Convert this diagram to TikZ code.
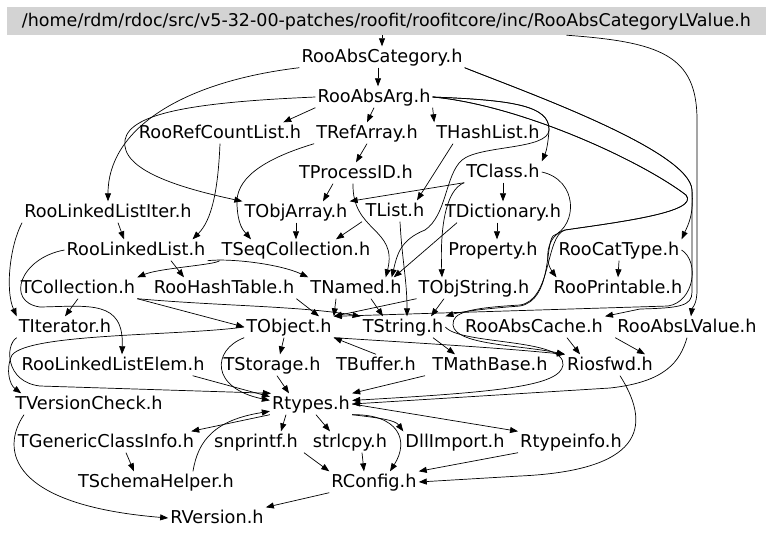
\documentclass[tikz,border=0pt]{standalone}
\usepackage{fontspec}
\setmainfont{DejaVu Sans}
\usetikzlibrary{arrows.meta}
\definecolor{titlegray}{RGB}{211,211,211}
\begin{document}
\begin{tikzpicture}[x=1pt,y=-1pt,
  n/.style={inner sep=2pt, text height=14pt, text depth=3pt, font=\fontsize{17.7}{20}\selectfont},
  e/.style={draw=black, line width=0.7pt, -{Triangle[length=8pt,width=6pt]}}]
\useasboundingbox (0,0) rectangle (768,539);
% nodes
\node[n, fill=titlegray, minimum width=759pt, minimum height=28pt, inner sep=0pt, font=\fontsize{17.5}{20}\selectfont] (T) at (386.5,21) {/home/rdm/rdoc/src/v5-32-00-patches/roofit/roofitcore/inc/RooAbsCategoryLValue.h};
\node[n] (RAC) at (382,57) {RooAbsCategory.h};
\node[n] (RAA) at (374,97) {RooAbsArg.h};
\node[n] (RRCL) at (220,133) {RooRefCountList.h};
\node[n] (TRA) at (367,133) {TRefArray.h};
\node[n] (THL) at (488,133) {THashList.h};
\node[n] (TPID) at (356,173) {TProcessID.h};
\node[n] (TCl) at (503,172) {TClass.h};
\node[n] (RLLI) at (108,212) {RooLinkedListIter.h};
\node[n] (TOA) at (296,212) {TObjArray.h};
\node[n] (TL) at (395,211) {TList.h};
\node[n] (TD) at (503,212) {TDictionary.h};
\node[n] (RLL) at (136,250) {RooLinkedList.h};
\node[n] (TSC) at (296,250) {TSeqCollection.h};
\node[n] (Prop) at (493,250) {Property.h};
\node[n] (RCT) at (619,250) {RooCatType.h};
\node[n] (TCol) at (78,288) {TCollection.h};
\node[n] (RHT) at (224,288) {RooHashTable.h};
\node[n] (TN) at (356,288) {TNamed.h};
\node[n] (TOS) at (474,288) {TObjString.h};
\node[n] (RP) at (618,288) {RooPrintable.h};
\node[n] (TI) at (65,327) {TIterator.h};
\node[n] (TO) at (289,327) {TObject.h};
\node[n] (TS) at (403,327) {TString.h};
\node[n] (RACh) at (534,327) {RooAbsCache.h};
\node[n] (RALV) at (687,327) {RooAbsLValue.h};
\node[n] (RLLE) at (113,365) {RooLinkedListElem.h};
\node[n] (TSt) at (272,365) {TStorage.h};
\node[n] (TB) at (376,365) {TBuffer.h};
\node[n] (TMB) at (490,365) {TMathBase.h};
\node[n] (Rf) at (610,365) {Riosfwd.h};
\node[n] (TVC) at (89,404) {TVersionCheck.h};
\node[n] (Rt) at (311,404) {Rtypes.h};
\node[n] (TGCI) at (106,442) {TGenericClassInfo.h};
\node[n] (snp) at (256,442) {snprintf.h};
\node[n] (strl) at (350,442) {strlcpy.h};
\node[n] (DI) at (455,442) {DllImport.h};
\node[n] (RTI) at (571,442) {Rtypeinfo.h};
\node[n] (TSH) at (156,482) {TSchemaHelper.h};
\node[n] (RC) at (374,482) {RConfig.h};
\node[n] (RV) at (217,518) {RVersion.h};
% edges
\draw[e] (T.south -| RAC.north) -- (RAC.north);
\draw[e] ([xshift=180pt]T.south) .. controls (660,42) and (697,55) .. (697,120) -- (697,290) .. controls (697,305) and (692,308) .. ([xshift=4pt]RALV.north);
\draw[e] ([xshift=-4pt]RAC.south) -- ([xshift=4pt]RAA.north);
\draw[e] (RAC.south west) .. controls (180,82) and (108,130) .. (RLLI.north);
\draw[e] (RAC.south east) .. controls (520,90) and (690,150) .. (692,190) .. controls (694,215) and (688,225) .. (RCT.north east);
\draw[e] (RAC.south east) .. controls (520,90) and (690,150) .. (692,190) -- (692,292) .. controls (692,306) and (680,308) .. (640,309) -- (RACh.north east);
\draw[e] (RAA.south west) -- ([xshift=-20pt]RRCL.north east);
\draw[e] (RAA.south) -- (TRA.north);
\draw[e] (RAA.south east) -- (THL.north west);
\draw[e] (RAA.west) .. controls (200,102) and (130,112) .. (125,140) .. controls (120,170) and (180,188) .. (TOA.north west);
\draw[e] (RAA.east) .. controls (510,100) and (550,105) .. (549,130) .. controls (548,145) and (546,152) .. (TCl.north east);
\draw[e] (RAA.east) .. controls (510,100) and (550,105) .. (549,130) .. controls (548,150) and (480,145) .. (462,160) .. controls (445,175) and (447,215) .. (425,230) .. controls (400,240) and (397,255) .. ([xshift=-12pt]TN.north east);
\draw[e] (TCl.south west) .. controls (445,190) and (440,230) .. ([xshift=-32pt]TOS.north);
\draw[e] (RAA.east) .. controls (520,105) and (640,160) .. (686,195) .. controls (700,212) and (620,222) .. (565,230) .. controls (545,236) and (545,262) .. ([xshift=5pt]RP.north west);
\draw[e] (RAA.east) .. controls (520,105) and (640,160) .. (686,195) .. controls (700,212) and (620,222) .. (565,230) .. controls (545,236) and (552,300) .. (520,305) .. controls (470,308) and (452,312) .. (453,325) .. controls (455,345) and (520,345) .. (Rf.north west);
\draw[e] (RRCL.south) .. controls (218,190) and (212,220) .. ([xshift=-15pt]RLL.north east);
\draw[e] (TRA.south west) .. controls (260,160) and (235,180) .. (237,205) .. controls (238,225) and (243,230) .. ([xshift=-45pt]TSC.north);
\draw[e] (TRA.south) -- (TPID.north);
\draw[e] ([xshift=-23pt]TPID.south) -- ([xshift=27pt]TOA.north);
\draw[e] (TCl.south west) -- (TOA.north east);
\draw[e] ([xshift=-35pt]THL.south) -- ([xshift=22pt]TL.north);
\draw[e] (TOA.south) -- (TSC.north);
\draw[e] ([xshift=-33pt]TL.south) -- ([xshift=40pt]TSC.north);
\draw[e] (TCl.south) -- (TD.north);
\draw[e] ([xshift=-6pt]TD.south) -- ([xshift=4pt]Prop.north);
\draw[e] ([xshift=-46pt]TD.south) -- ([xshift=-10pt]TN.north east);
\draw[e] ([xshift=5pt]TL.south) .. controls (402,260) and (407,280) .. ([xshift=4pt]TS.north);
\draw[e] ([xshift=-3pt]TPID.south) .. controls (352,232) and (398,228) .. ([xshift=-18pt]TN.north east);
\draw[e] ([xshift=-30pt]TOS.south) -- ([xshift=28pt]TS.north);
\draw[e] (TCl.east) .. controls (578,180) and (578,225) .. (553,236) .. controls (545,245) and (552,300) .. (520,306) .. controls (480,309) and (460,312) .. (TS.north east);
\draw[e] (RCT.south) -- (RP.north);
\draw[e] (RCT.east) .. controls (700,262) and (694,302) .. (668,306) -- (TO.north east);
\draw[e] ([xshift=10pt]RLLI.south) -- ([xshift=-12pt]RLL.north);
\draw[e] (RLLI.south west) .. controls (10,245) and (5,290) .. (TI.north west);
\draw[e] (RLL.west) .. controls (20,258) and (5,302) .. (40,307) .. controls (90,306) and (124,300) .. ([xshift=9pt]RLLE.north);
\draw[e] ([xshift=35pt]RLL.south) -- ([xshift=-40pt]RHT.north);
\draw[e] (TSC.south west) .. controls (215,265) and (160,268) .. (TCol.north east);
\draw[e] (RLL.south east) .. controls (230,258) and (280,264) .. (TN.north west);
\draw[e] (TCol.south east) -- (TO.west);
\draw[e] (TCol.south east) .. controls (220,306) and (300,306) .. (TS.north west);
\draw[e] (TCol.south) -- (TI.north);
\draw[e] (RHT.south east) -- ([xshift=30pt]TO.north);
\draw[e] ([xshift=-20pt]TN.south) -- (TO.north east);
\draw[e] ([xshift=15pt]TN.south) -- ([xshift=-20pt]TS.north);
\draw[e] (TOS.south west) -- (TO.north east);
\draw[e] (TO.west) .. controls (180,336) and (30,333) .. (12,355) .. controls (5,370) and (10,385) .. ([xshift=8pt]TVC.north west);
\draw[e] (TI.south west) .. controls (5,345) and (5,382) .. (40,386) -- (Rt.165);
\draw[e] ([xshift=-14pt]RLLE.south east) -- (Rt.170);
\draw[e] (TO.south west) .. controls (212,350) and (210,388) .. (Rt.175);
\draw[e] ([xshift=-5pt]TO.south) -- ([xshift=8pt]TSt.north);
\draw[e] (TB.north) -- (TO.south east);
\draw[e] (TO.south east) .. controls (450,345) and (500,348) .. (Rf.north west);
\draw[e] ([xshift=30pt]TS.south) -- ([xshift=-35pt]TMB.north);
\draw[e] ([xshift=33pt]RACh.south) -- ([xshift=-30pt]Rf.north);
\draw[e] (RALV.south west) -- ([xshift=35pt]Rf.north);
\draw[e] (RALV.south) .. controls (680,362) and (665,382) .. (610,388) -- (Rt.east);
\draw[e] ([xshift=-65pt]TMB.south) -- (Rt.north east);
\draw[e] (TS.east) .. controls (460,345) and (566,338) .. (563,365) .. controls (560,386) and (500,392) .. (Rt.5);
\draw[e] ([xshift=5pt]TSt.south) -- ([xshift=-22pt]Rt.north);
\draw[e] (Rt.south west) -- ([xshift=-5pt]TGCI.north east);
\draw[e] ([xshift=37pt]TSH.north) .. controls (198,440) and (215,420) .. (Rt.190);
\draw[e] ([xshift=-25pt]Rt.south) -- ([xshift=25pt]snp.north);
\draw[e] ([xshift=5pt]Rt.south) -- ([xshift=-20pt]strl.north);
\draw[e] (Rt.south east) .. controls (380,418) and (395,420) .. (DI.north west);
\draw[e] (Rt.south east) .. controls (398,414) and (410,440) .. ([xshift=16pt]RC.north);
\draw[e] (Rt.east) -- (RTI.north west);
\draw[e] ([xshift=20pt]TGCI.south) -- ([xshift=-22pt]TSH.north);
\draw[e] ([xshift=48pt]snp.south) -- (RC.north west);
\draw[e] ([xshift=12pt]strl.south) -- ([xshift=-10pt]RC.north);
\draw[e] (RTI.south west) -- (RC.north east);
\draw[e] ([xshift=10pt]Rf.south) .. controls (648,420) and (652,470) .. (520,476) -- (RC.east);
\draw[e] (RC.south west) -- (RV.north east);
\draw[e] ([xshift=-65pt]TVC.south) .. controls (0,450) and (10,505) .. (RV.west);
\end{tikzpicture}
\end{document}
